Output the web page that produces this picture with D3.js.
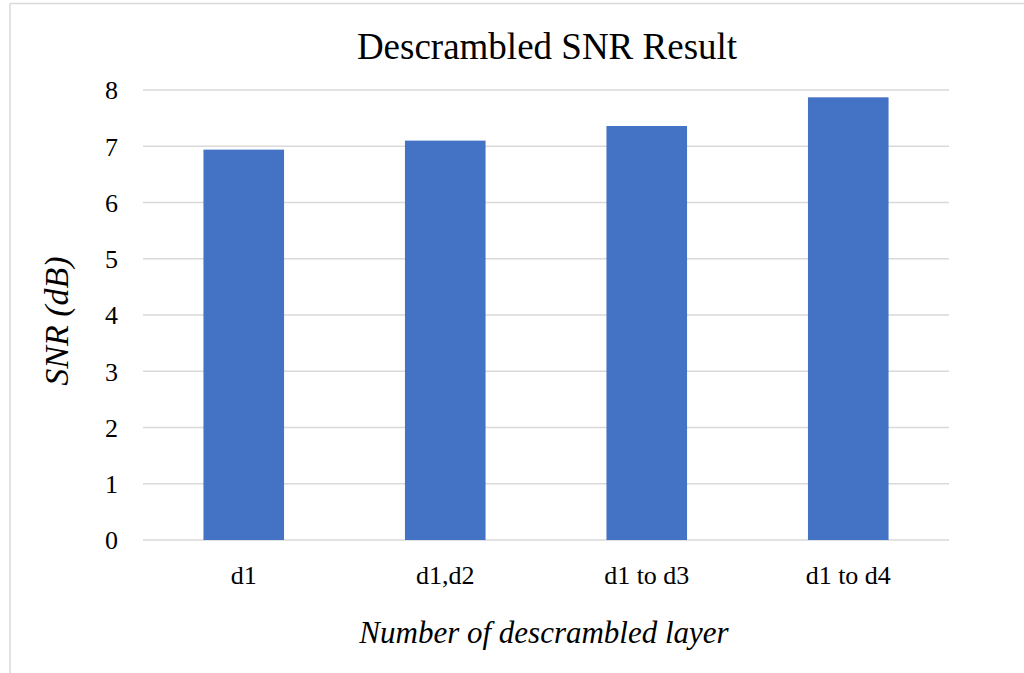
<!DOCTYPE html>
<html>
<head>
<meta charset="utf-8">
<script src="https://cdn.jsdelivr.net/npm/d3@7"></script>
<style>
  body { margin: 0; background: #fff; }
  svg text { font-family: "Liberation Serif", "Times New Roman", serif !important; fill: #000; }
</style>
</head>
<body>
<script>
// data
var categories = ["d1", "d1,d2", "d1 to d3", "d1 to d4"];
var snrValues = [6.94, 7.10, 7.36, 7.87];
var yTicks = [0, 1, 2, 3, 4, 5, 6, 7, 8];

var svgWidth = 1024;
var svgHeight = 673;

var margin = { top: 90, right: 75, bottom: 133, left: 143 };
var width = 949 - margin.left;
var height = 540 - margin.top;

var svg = d3.select("body")
  .append("svg")
  .attr("width", svgWidth)
  .attr("height", svgHeight);

// chart area border (only top and left are in view)
svg.append("line")
  .attr("x1", 10).attr("x2", svgWidth)
  .attr("y1", 3.5).attr("y2", 3.5)
  .attr("stroke", "#d9d9d9").attr("stroke-width", 1.5);
svg.append("line")
  .attr("x1", 10).attr("x2", 10)
  .attr("y1", 3.5).attr("y2", svgHeight)
  .attr("stroke", "#d9d9d9").attr("stroke-width", 1.5);

var chartGroup = svg.append("g")
  .attr("transform", `translate(${margin.left}, ${margin.top})`);

var xScale = d3.scaleBand()
  .domain(categories)
  .range([0, width])
  .paddingInner(0.6)
  .paddingOuter(0.3);

var yScale = d3.scaleLinear()
  .domain([0, 8])
  .range([height, 0]);

// gridlines
chartGroup.append("g")
  .selectAll("line")
  .data(yTicks)
  .enter()
  .append("line")
  .attr("x1", 0)
  .attr("x2", width)
  .attr("y1", d => yScale(d))
  .attr("y2", d => yScale(d))
  .attr("stroke", "#d9d9d9")
  .attr("stroke-width", 1.3);

// y axis (labels only)
var leftAxis = d3.axisLeft(yScale).tickValues(yTicks).tickSize(0).tickPadding(25);
var yAxisG = chartGroup.append("g").call(leftAxis)
  .attr("font-family", null)
  .attr("font-size", 26);
yAxisG.select(".domain").remove();
yAxisG.selectAll("text")
  .attr("dy", "0.34em");

// x axis (labels only)
var bottomAxis = d3.axisBottom(xScale).tickSize(0).tickPadding(26);
var xAxisG = chartGroup.append("g")
  .attr("transform", `translate(0, ${height})`)
  .call(bottomAxis)
  .attr("font-family", null)
  .attr("font-size", 26);
xAxisG.select(".domain").remove();

// bars
chartGroup.selectAll(".bar")
  .data(snrValues)
  .enter()
  .append("rect")
  .attr("class", "bar")
  .attr("x", (d, i) => xScale(categories[i]))
  .attr("y", d => yScale(d))
  .attr("width", xScale.bandwidth())
  .attr("height", d => height - yScale(d))
  .attr("fill", "#4472c4");

// title
svg.append("text")
  .attr("x", 547)
  .attr("y", 59)
  .attr("text-anchor", "middle")
  .attr("font-size", 37)
  .text("Descrambled SNR Result");

// axis titles
svg.append("text")
  .attr("x", 544)
  .attr("y", 643)
  .attr("text-anchor", "middle")
  .attr("font-size", 31)
  .attr("font-style", "italic")
  .text("Number of descrambled layer");

svg.append("text")
  .attr("transform", "translate(68, 321) rotate(-90)")
  .attr("text-anchor", "middle")
  .attr("font-size", 34)
  .attr("font-style", "italic")
  .text("SNR (dB)");
</script>
</body>
</html>
